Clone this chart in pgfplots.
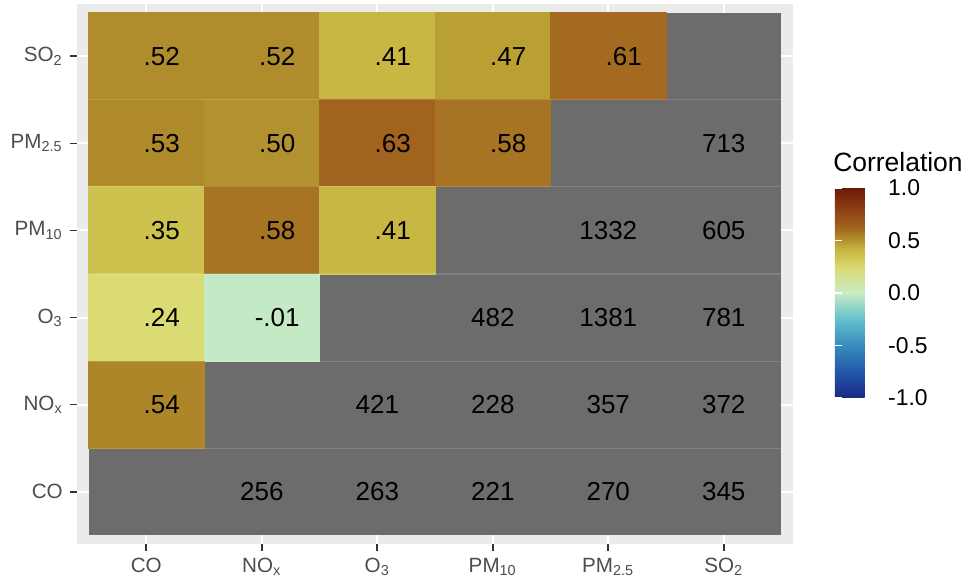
\documentclass[border=0pt]{standalone}
\usepackage{fontspec}
\setmainfont{Liberation Sans}
\usepackage{pgfplots}
\pgfplotsset{compat=1.18}
\definecolor{panelbg}{HTML}{EBEBEB}
\definecolor{tilegray}{HTML}{6C6C6C}
\definecolor{ticklab}{HTML}{4D4D4D}
\definecolor{tickcol}{HTML}{333333}
\begin{document}
\begin{tikzpicture}
\begin{axis}[
  at={(0,0)}, anchor=south west,
  scale only axis, width=343.7pt, height=259.2pt,
  xmin=-0.6, xmax=5.6, ymin=-0.6, ymax=5.6,
  axis background/.style={fill=panelbg},
  axis line style={draw=none},
  xtick={0,1,2,3,4,5}, ytick={0,1,2,3,4,5},
  xticklabels={CO, NO\textsubscript{x}, O\textsubscript{3}, PM\textsubscript{10}, PM\textsubscript{2.5}, SO\textsubscript{2}},
  yticklabels={CO, NO\textsubscript{x}, O\textsubscript{3}, PM\textsubscript{10}, PM\textsubscript{2.5}, SO\textsubscript{2}},
  tick pos=left, tick align=outside, major tick length=3.3pt,
  tick style={tickcol, line width=0.8pt},
  grid=major, major grid style={white, line width=1pt},
  ticklabel style={font=\fontsize{9.9}{11}\selectfont, text=ticklab},
  colormap={roma}{
    rgb255(0pt)=(26,40,135);
    rgb255(25pt)=(33,88,168);
    rgb255(50pt)=(56,140,190);
    rgb255(75pt)=(98,193,204);
    rgb255(100pt)=(200,236,197);
    rgb255(124pt)=(218,219,115);
    rgb255(135pt)=(206,194,79);
    rgb255(141pt)=(201,183,67);
    rgb255(147pt)=(186,160,51);
    rgb255(150pt)=(178,146,47);
    rgb255(153pt)=(175,138,42);
    rgb255(158pt)=(167,116,36);
    rgb255(161pt)=(164,106,31);
    rgb255(163pt)=(161,99,30);
    rgb255(180pt)=(140,64,20);
    rgb255(200pt)=(110,24,8)
  },
  point meta min=-1, point meta max=1,
  colorbar,
  colorbar style={
    at={(1.0585,0.6593)}, anchor=north west,
    scale only axis, width=19.7pt, height=100.8pt,
    grid=none,
    axis line style={draw=none},
    ytick={-1,-0.5,0,0.5,1}, yticklabels={-1.0,-0.5,0.0,0.5,1.0},
    ytick pos=both, yticklabel pos=right,
    tick align=inside, major tick length=3.2pt,
    tick style={white, line width=0.6pt},
    yticklabel style={font=\fontsize{11}{13}\selectfont, text=black, xshift=2.3pt},
    title={Correlation},
    title style={at={(0,1)}, anchor=base west, xshift=-1pt, yshift=1.7pt, inner sep=0pt, font=\fontsize{12.7}{15}\selectfont, text=black},
  },
]
\addplot[fill=tilegray, draw=none] coordinates {(-0.5,-0.5) (5.5,-0.5) (5.5,5.5) (-0.5,5.5)} -- cycle;
\addplot[patch, patch type=rectangle, shader=flat, point meta=explicit] table[meta=c] {
x y c
-0.5 4.5 0.52
0.5 4.5 0.52
0.5 5.5 0.52
-0.5 5.5 0.52
0.5 4.5 0.52
1.5 4.5 0.52
1.5 5.5 0.52
0.5 5.5 0.52
1.5 4.5 0.41
2.5 4.5 0.41
2.5 5.5 0.41
1.5 5.5 0.41
2.5 4.5 0.47
3.5 4.5 0.47
3.5 5.5 0.47
2.5 5.5 0.47
3.5 4.5 0.61
4.5 4.5 0.61
4.5 5.5 0.61
3.5 5.5 0.61
-0.5 3.5 0.53
0.5 3.5 0.53
0.5 4.5 0.53
-0.5 4.5 0.53
0.5 3.5 0.50
1.5 3.5 0.50
1.5 4.5 0.50
0.5 4.5 0.50
1.5 3.5 0.63
2.5 3.5 0.63
2.5 4.5 0.63
1.5 4.5 0.63
2.5 3.5 0.58
3.5 3.5 0.58
3.5 4.5 0.58
2.5 4.5 0.58
-0.5 2.5 0.35
0.5 2.5 0.35
0.5 3.5 0.35
-0.5 3.5 0.35
0.5 2.5 0.58
1.5 2.5 0.58
1.5 3.5 0.58
0.5 3.5 0.58
1.5 2.5 0.41
2.5 2.5 0.41
2.5 3.5 0.41
1.5 3.5 0.41
-0.5 1.5 0.24
0.5 1.5 0.24
0.5 2.5 0.24
-0.5 2.5 0.24
0.5 1.5 -0.01
1.5 1.5 -0.01
1.5 2.5 -0.01
0.5 2.5 -0.01
-0.5 0.5 0.54
0.5 0.5 0.54
0.5 1.5 0.54
-0.5 1.5 0.54
};
\addplot[draw=white, draw opacity=0.15, line width=0.5pt, forget plot] coordinates {(-0.5,0.5) (5.5,0.5)};
\addplot[draw=white, draw opacity=0.15, line width=0.5pt, forget plot] coordinates {(-0.5,1.5) (5.5,1.5)};
\addplot[draw=white, draw opacity=0.15, line width=0.5pt, forget plot] coordinates {(-0.5,2.5) (5.5,2.5)};
\addplot[draw=white, draw opacity=0.15, line width=0.5pt, forget plot] coordinates {(-0.5,3.5) (5.5,3.5)};
\addplot[draw=white, draw opacity=0.15, line width=0.5pt, forget plot] coordinates {(-0.5,4.5) (5.5,4.5)};
\addplot[draw=none, mark=none, nodes near coords, point meta=explicit symbolic,
  nodes near coords style={anchor=center, inner sep=0pt, font=\fontsize{12.5}{14}\selectfont, text=black, xshift=7.4pt}]
  table[meta=lab] {
x y lab
0 5 .52
1 5 .52
2 5 .41
3 5 .47
4 5 .61
0 4 .53
1 4 .50
2 4 .63
3 4 .58
0 3 .35
1 3 .58
2 3 .41
0 2 .24
1 2 -.01
0 1 .54
};
\addplot[draw=none, mark=none, nodes near coords, point meta=explicit symbolic,
  nodes near coords style={anchor=center, inner sep=0pt, font=\fontsize{12.5}{14}\selectfont, text=black}]
  table[meta=lab] {
x y lab
5 4 713
4 3 1332
5 3 605
3 2 482
4 2 1381
5 2 781
2 1 421
3 1 228
4 1 357
5 1 372
1 0 256
2 0 263
3 0 221
4 0 270
5 0 345
};
\end{axis}
\pgfresetboundingbox
\path[use as bounding box] (-36.96pt,-17.28pt) rectangle (428.16pt,261.12pt);
\end{tikzpicture}
\end{document}
